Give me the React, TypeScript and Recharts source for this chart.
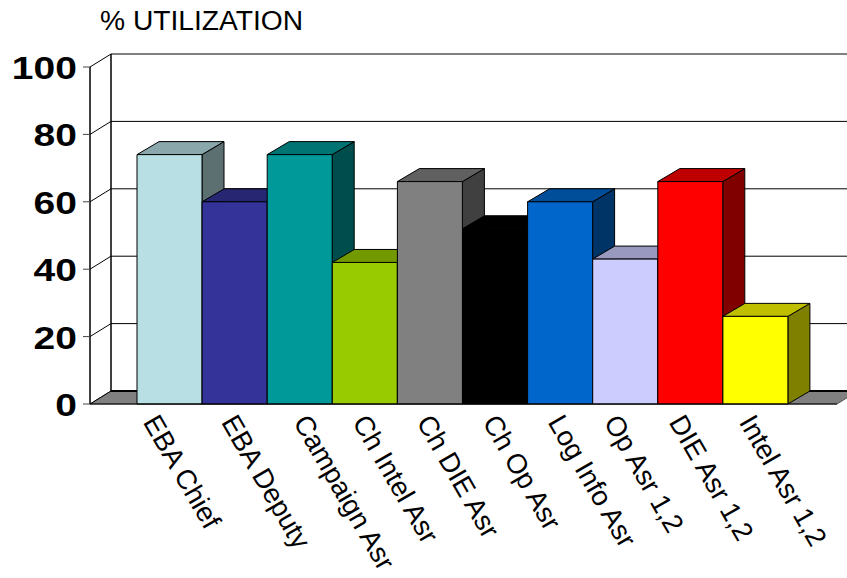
import * as React from 'react';
import { BarChart, Bar, XAxis, YAxis, CartesianGrid } from 'recharts';

const categories = ['EBA Chief', 'EBA Deputy', 'Campaign Asr', 'Ch Intel Asr', 'Ch DIE Asr', 'Ch Op Asr', 'Log Info Asr', 'Op Asr 1,2', 'DIE Asr 1,2', 'Intel Asr 1,2'];
const utilization = [74, 60, 74, 42, 66, 52, 60, 43, 66, 26];
const barColors = ['#B8E0E4', '#333399', '#009999', '#99CC00', '#808080', '#000000', '#0066CC', '#CCCCFF', '#FF0000', '#FFFF00'];
const yTicks = [0, 20, 40, 60, 80, 100];

const data = categories.map((name, i) => ({ name, value: utilization[i], color: barColors[i] }));

const FONT = '"Liberation Sans", Arial, sans-serif';
const BAR_DX = 22, BAR_DY = 13;
const WALL_DX = 21, WALL_DY = 13;
// the labels in the picture do not sit evenly under the bars
const labelNudge = [0, 13, 20, 14, 13, 14, 14, 5, 5, 10];

// multiply an rgb hex colour, the old 3d charts shade the faces like this
const shade = (hex: string, f: number) => {
  const n = parseInt(hex.slice(1), 16);
  const c = [(n >> 16) & 255, (n >> 8) & 255, n & 255].map(v => Math.round(v * f));
  return `rgb(${c.join(',')})`;
};

function Box3D(props: any) {
  const { x, y, width, height, payload } = props;
  const col = payload.color;
  const r = x + width, b = y + height;
  return (
    <g stroke="#000" strokeWidth={1} strokeLinejoin="round">
      <polygon points={`${r},${y} ${r + BAR_DX},${y - BAR_DY} ${r + BAR_DX},${b - BAR_DY} ${r},${b}`} fill={shade(col, 0.5)} />
      <polygon points={`${x},${y} ${x + BAR_DX},${y - BAR_DY} ${r + BAR_DX},${y - BAR_DY} ${r},${y}`} fill={shade(col, 0.75)} />
      <rect x={x} y={y} width={width} height={height} fill={col} />
    </g>
  );
}

function WallLine(props: any) {
  const { x1, x2, y1, index } = props;
  const isFloor = y1 > 380;
  const isTop = y1 < 70;
  const bx = x1 + WALL_DX, by = y1 - WALL_DY;
  return (
    <g key={index}>
      {isFloor && (
        <polygon points={`${x1},${y1} ${bx},${by} ${x2 + WALL_DX},${by} ${x2},${y1}`} fill="#808080" stroke="#555" strokeWidth={1} />
      )}
      <line x1={x1} y1={y1} x2={bx} y2={by} stroke="#000" strokeWidth={1} />
      <line x1={bx} y1={by} x2={x2 + WALL_DX} y2={by} stroke="#000" strokeWidth={isFloor ? 2 : 1} />
      {isTop && <line x1={bx} y1={by} x2={bx} y2={by + (404 - 67)} stroke="#000" strokeWidth={1.5} />}
    </g>
  );
}

function YTick(props: any) {
  const { x, y, payload } = props;
  return (
    <text transform={`translate(${x - 6},${y + 12}) scale(1.22,1)`} textAnchor="end" fontFamily={FONT} fontWeight="bold" fontSize={32} fill="#000">
      {payload.value}
    </text>
  );
}

function XTick(props: any) {
  const { x, y, payload, index } = props;
  return (
    <text transform={`translate(${x - 27 + labelNudge[index]},${y + 12}) rotate(60)`} textAnchor="start" fontFamily={FONT} fontSize={27.6} fill="#000">
      {payload.value}
    </text>
  );
}

export default function App() {
  return (
    <div style={{ position: 'absolute', left: 0, top: 0, width: 847, height: 578, background: '#fff', overflow: 'hidden' }}>
      <div style={{ position: 'absolute', left: 100, top: 4, fontFamily: FONT, fontSize: 28.2, color: '#000', whiteSpace: 'nowrap' }}>% UTILIZATION</div>
      <BarChart width={847} height={578} data={data} margin={{ top: 67, right: 10, bottom: 0, left: 0 }} barCategoryGap={0}>
        <CartesianGrid vertical={false} horizontal={(p: any) => <WallLine {...p} />} syncWithTicks />
        <XAxis dataKey="name" interval={0} height={174} padding={{ left: 47, right: 49 }} tickLine={false} tickMargin={0} axisLine={{ stroke: '#000' }} tick={<XTick />} />
        <YAxis type="number" domain={[0, 100]} ticks={yTicks} width={90} tickSize={7} tickMargin={0} tickLine={{ stroke: '#444' }} axisLine={{ stroke: '#000', strokeWidth: 1.5 }} tick={<YTick />} />
        <Bar dataKey="value" isAnimationActive={false} shape={<Box3D />} />
      </BarChart>
    </div>
  );
}
